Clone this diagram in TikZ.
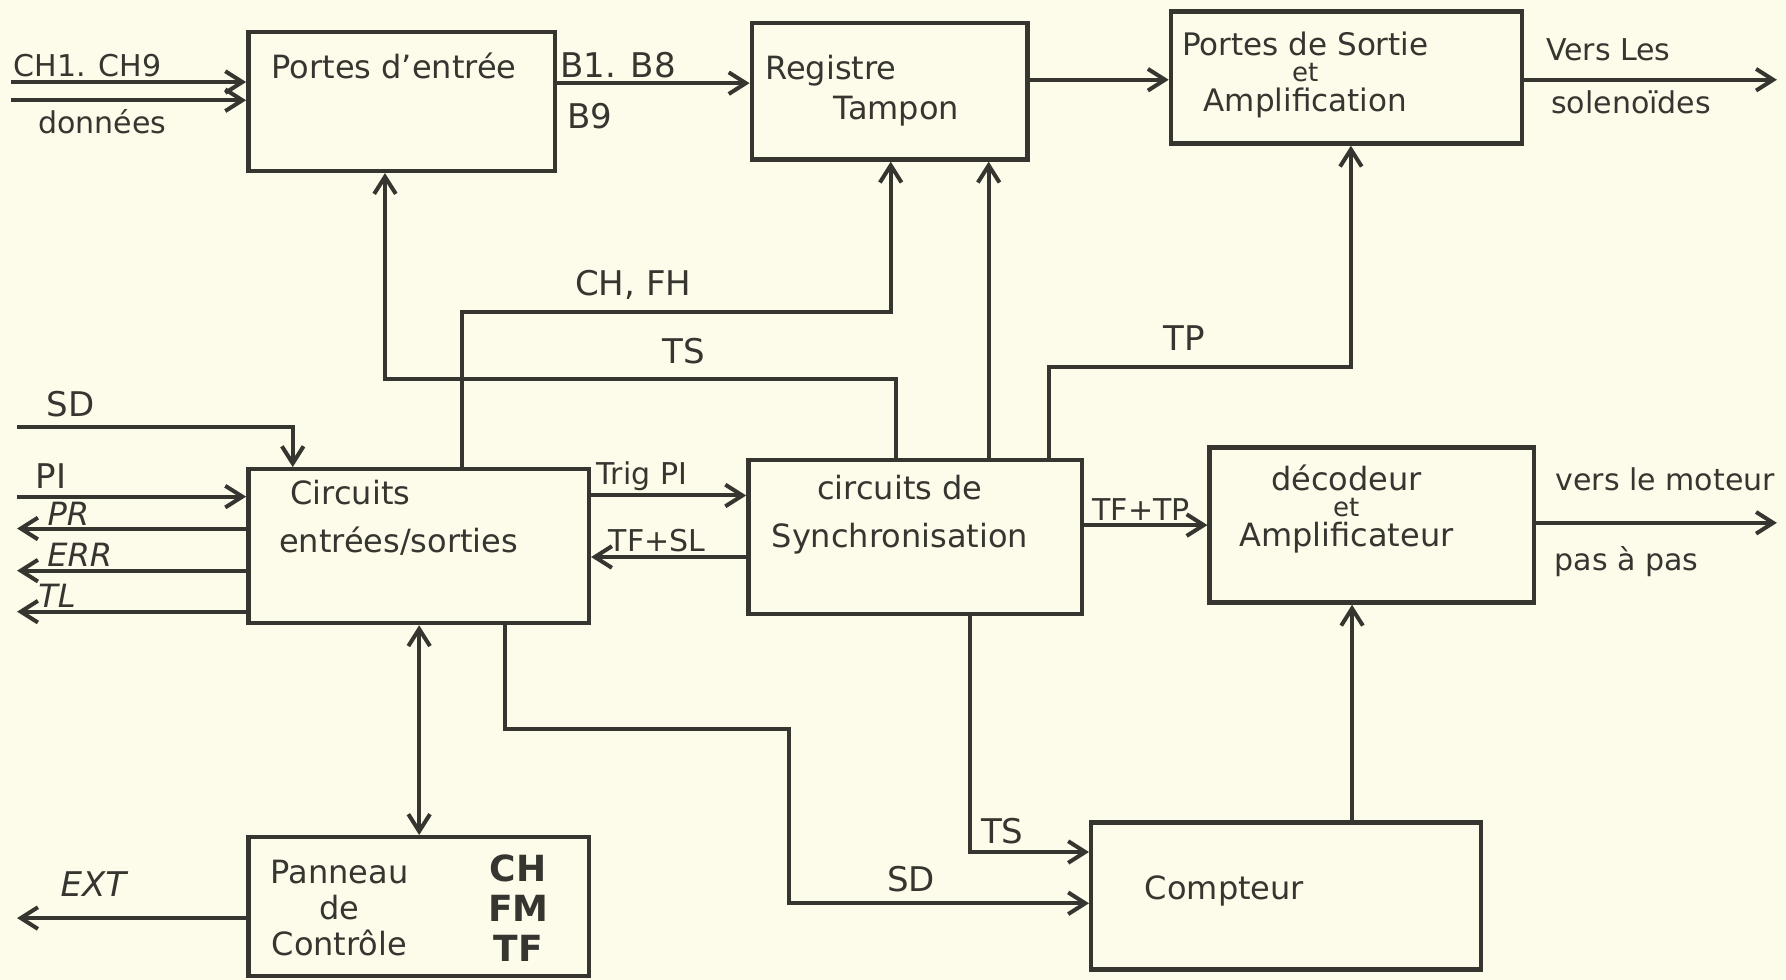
\documentclass[tikz,border=0pt]{standalone}
\usepackage{fontspec}
\setmainfont{DejaVu Sans}
\usepackage{xcolor}
\usepackage{tikz}
\usetikzlibrary{arrows.meta,positioning,fit,calc}

\definecolor{paper}{RGB}{253,251,233}
\definecolor{ink}{RGB}{55,53,48}

\begin{document}
\begin{tikzpicture}[
    x = 0.02cm, y = -0.02cm,
    >={Straight Barb[length=3mm,width=3.8mm]},
    box/.style = {rectangle, draw=ink, line width=2.2pt, inner sep=0pt},
    txt/.style = {text=ink, align=center, inner sep=1pt, font=\fontsize{16}{20}\selectfont},
    lbl/.style = {text=ink, inner sep=1pt, font=\fontsize{17}{20}\selectfont},
    sml/.style = {text=ink, inner sep=1pt, font=\fontsize{15}{18}\selectfont},
    arrow/.style = {ink, line width=2pt, ->},
    dblarrow/.style = {ink, line width=2pt, <->}
]

% paper
\fill[paper] (0,0) rectangle (1568,860);

% Boxes
\node [box, fit={(218,28) (487,150)}] (pe) {};
\node [box, fit={(660,20) (902,140)}] (rt) {};
\node [box, fit={(1028,10) (1336,126)}] (ps) {};
\node [box, fit={(218,412) (517,547)}] (es) {};
\node [box, fit={(657,404) (950,539)}] (sy) {};
\node [box, fit={(1062,393) (1347,529)}] (da) {};
\node [box, fit={(218,735) (517,857)}] (pc) {};
\node [box, fit={(958,722) (1300,851)}] (co) {};

% Box texts
\node [txt] (pe_t) at (346,58) {Portes d'entrée};
\node [txt, align=left] (rt_t) at (757,80) {Registre\\\hspace*{1.2cm}Tampon};
\node [txt, font=\fontsize{15.5}{20}\selectfont] (ps_t) at (1146,66) {Portes de Sortie\\[-7pt]{\fontsize{13}{15}\selectfont et}\\[-5pt]Amplification};
\node [txt, align=left] (es_t) at (350,455) {\hspace*{0.2cm}Circuits\\[4pt]entrées/sorties};
\node [txt] (sy_t) at (790,452) {circuits de\\[4pt]Synchronisation};
\node [txt] (da_t) at (1182,447) {décodeur\\[-7pt]{\fontsize{13}{15}\selectfont et}\\[-5pt]Amplificateur};
\node [txt] (pc_t) at (298,797) {Panneau\\[-2pt]de\\[-2pt]Contrôle};
\node [txt, font=\fontsize{18}{20}\selectfont\bfseries] (pc_k) at (455,797) {CH\\FM\\TF};
\node [txt] (co_t) at (1075,782) {Compteur};

% Free ends
\coordinate (chin) at (10,72);
\coordinate (dnin) at (10,88);
\coordinate (solout) at (1560,70);
\coordinate (sdin) at (15,375);
\coordinate (piin) at (15,436);
\coordinate (prout) at (15,464);
\coordinate (errout) at (15,501);
\coordinate (tlout) at (15,537);
\coordinate (motout) at (1560,459);
\coordinate (extout) at (15,806);

% Arrows, top row
\draw [arrow] (chin) -- (chin -| pe.west);
\draw [arrow] (dnin) -- (dnin -| pe.west);
\draw [arrow] (pe.east |- 0,73) -- (rt.west |- 0,73);
\draw [arrow] (rt.east |- 0,70) -- (ps.west |- 0,70);
\draw [arrow] (ps.east |- solout) -- (solout);

% Arrows, feedback upwards
\draw [arrow] (787,0 |- sy.north) -- (787,333) -| (338,0 |- pe.south);
\draw [arrow] (406,0 |- es.north) -- (406,274) -| (782,0 |- rt.south);
\draw [arrow] (868,0 |- sy.north) -- (868,0 |- rt.south);
\draw [arrow] (921,0 |- sy.north) -- (921,322) -| (1186,0 |- ps.south);

% Arrows, left side
\draw [arrow] (sdin) -| (257,0 |- es.north);
\draw [arrow] (piin) -- (piin -| es.west);
\draw [arrow] (prout -| es.west) -- (prout);
\draw [arrow] (errout -| es.west) -- (errout);
\draw [arrow] (tlout -| es.west) -- (tlout);

% Arrows, middle row
\draw [arrow] (es.east |- 0,435) -- (sy.west |- 0,435);
\draw [arrow] (sy.west |- 0,489) -- (es.east |- 0,489);
\draw [arrow] (sy.east |- 0,461) -- (da.west |- 0,461);
\draw [arrow] (da.east |- motout) -- (motout);

% Arrows, bottom
\draw [dblarrow] (368,0 |- es.south) -- (368,0 |- pc.north);
\draw [arrow] (443,0 |- es.south) -- (443,640) -- (693,640) |- (co.west |- 0,793);
\draw [arrow] (852,0 |- sy.south) |- (co.west |- 0,748);
\draw [arrow] (1187,0 |- co.north) -- (1187,0 |- da.south);
\draw [arrow] (pc.west |- extout) -- (extout);

% Labels
\node [sml, anchor=south west] (l_ch) at (10,70) {CH1. CH9};
\node [sml] (l_dn) at (90,107) {données};
\node [lbl, anchor=south west] (l_b18) at (490,71) {B1. B8};
\node [lbl] (l_b9) at (518,102) {B9};
\node [sml] (l_vers) at (1412,44) {Vers Les};
\node [sml] (l_sol) at (1432,90) {solenoïdes};
\node [lbl] (l_chfh) at (556,250) {CH, FH};
\node [lbl] (l_ts1) at (600,308) {TS};
\node [lbl] (l_tp) at (1040,297) {TP};
\node [lbl] (l_sd1) at (62,355) {SD};
\node [lbl] (l_pi) at (45,418) {PI};
\node [sml, font=\fontsize{16}{18}\selectfont\itshape] (l_pr) at (60,451) {PR};
\node [sml, font=\fontsize{16}{18}\selectfont\itshape] (l_err) at (70,487) {ERR};
\node [sml, font=\fontsize{16}{18}\selectfont\itshape] (l_tl) at (50,523) {TL};
\node [sml, anchor=south west] (l_trig) at (522,433) {Trig PI};
\node [sml] (l_tfsl) at (577,475) {TF+SL};
\node [sml, anchor=south west] (l_tftp) at (957,459) {TF+TP};
\node [sml] (l_mot) at (1462,421) {vers le moteur};
\node [sml] (l_pas) at (1428,493) {pas à pas};
\node [lbl] (l_ts2) at (880,730) {TS};
\node [lbl] (l_sd2) at (800,772) {SD};
\node [lbl, font=\fontsize{17}{20}\selectfont\itshape] (l_ext) at (82,776) {EXT};

\end{tikzpicture}
\end{document}
